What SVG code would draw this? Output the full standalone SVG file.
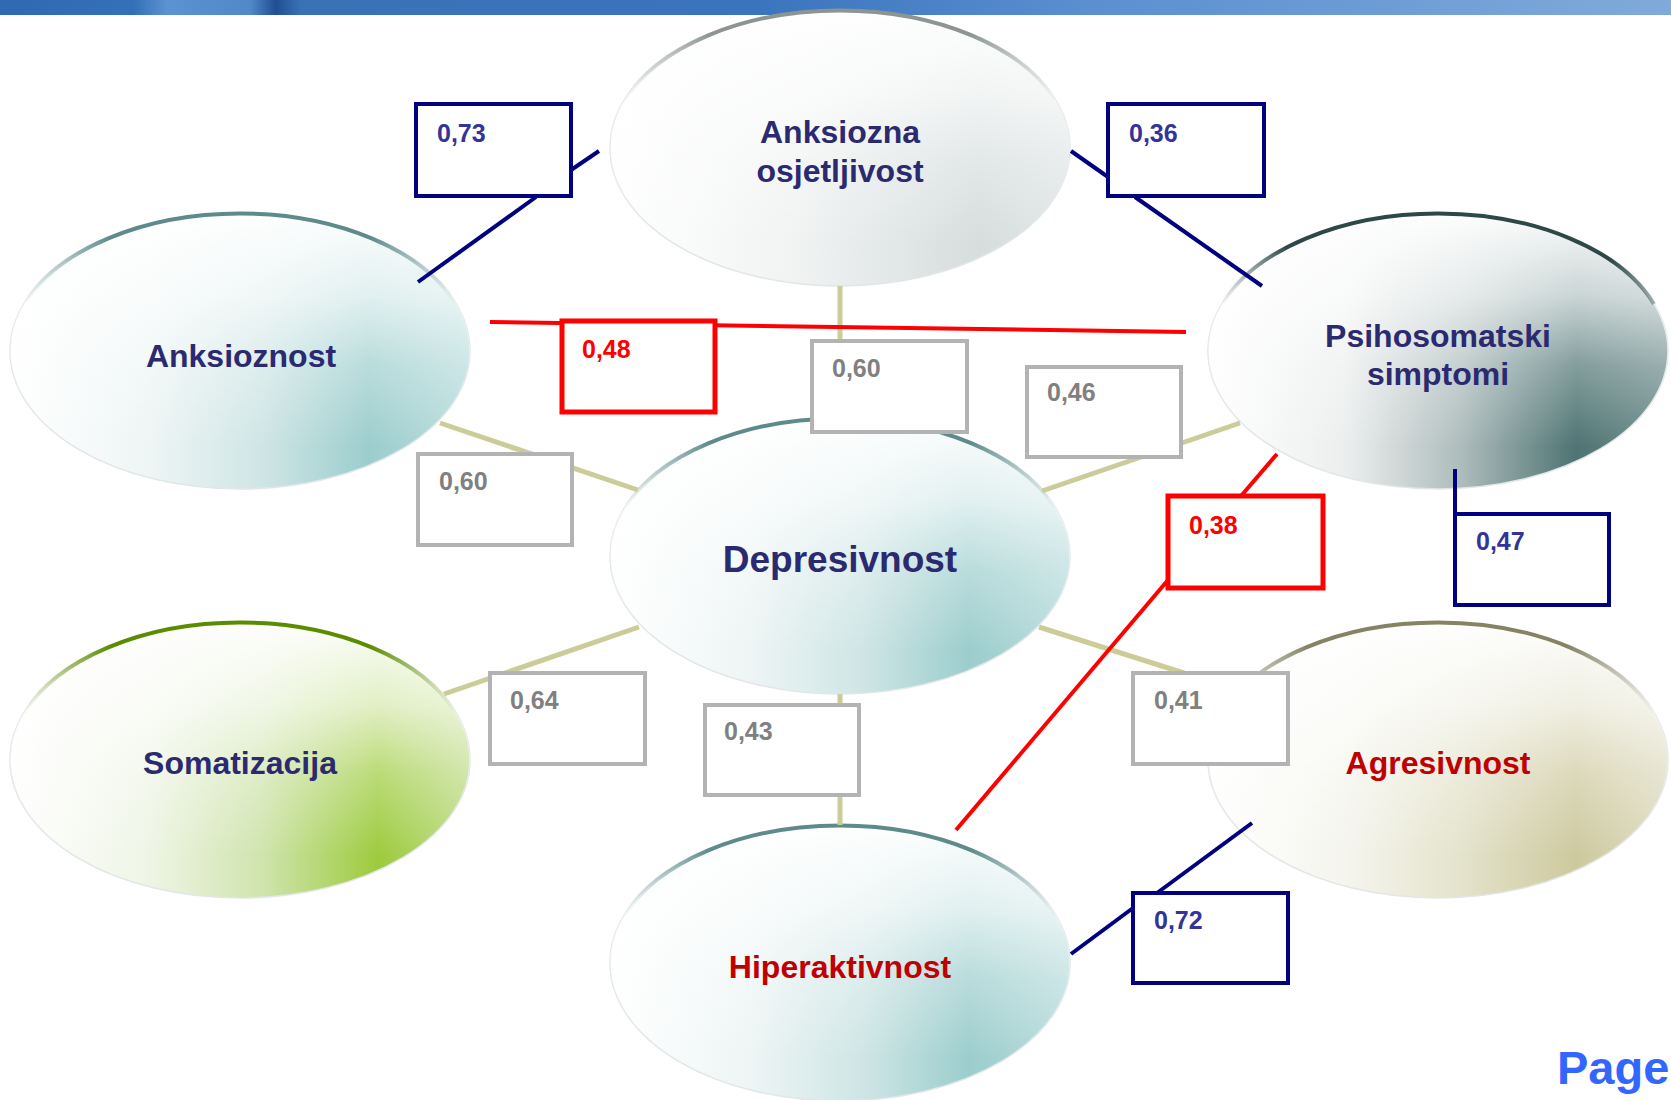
<svg xmlns="http://www.w3.org/2000/svg" width="1671" height="1100" viewBox="0 0 1671 1100">
<defs>
<linearGradient id="bar" x1="0" y1="0" x2="1" y2="0">
<stop offset="0" stop-color="#2f69b2"/><stop offset="0.08" stop-color="#3470b8"/><stop offset="0.1" stop-color="#5b92d2"/><stop offset="0.15" stop-color="#5088c8"/><stop offset="0.165" stop-color="#1f4f92"/><stop offset="0.18" stop-color="#3a72b6"/><stop offset="0.45" stop-color="#3a74be"/><stop offset="0.65" stop-color="#5a8fd0"/><stop offset="1" stop-color="#80aadb"/>
</linearGradient>
<linearGradient id="gTeal" x1="0" y1="0" x2="1" y2="0"><stop offset="0" stop-color="#ffffff"/><stop offset="0.3" stop-color="#eef5f5"/><stop offset="0.55" stop-color="#cfe5e5"/><stop offset="0.78" stop-color="#9ccdcd"/><stop offset="1" stop-color="#b9dcdc"/></linearGradient>
<linearGradient id="gGray" x1="0" y1="0" x2="1" y2="0"><stop offset="0" stop-color="#ffffff"/><stop offset="0.4" stop-color="#f1f3f3"/><stop offset="0.8" stop-color="#d6dddd"/><stop offset="1" stop-color="#e0e5e5"/></linearGradient>
<linearGradient id="gDark" x1="0" y1="0" x2="1" y2="0"><stop offset="0" stop-color="#ffffff"/><stop offset="0.3" stop-color="#eceeee"/><stop offset="0.55" stop-color="#aebcbc"/><stop offset="0.8" stop-color="#4e7473"/><stop offset="1" stop-color="#6f8d8c"/></linearGradient>
<linearGradient id="gOlive" x1="0" y1="0" x2="1" y2="0"><stop offset="0" stop-color="#ffffff"/><stop offset="0.3" stop-color="#f5f5ee"/><stop offset="0.55" stop-color="#e4e3cc"/><stop offset="0.8" stop-color="#cdc99e"/><stop offset="1" stop-color="#dedbbf"/></linearGradient>
<linearGradient id="gGreen" x1="0" y1="0" x2="1" y2="0"><stop offset="0" stop-color="#ffffff"/><stop offset="0.3" stop-color="#eff5e6"/><stop offset="0.55" stop-color="#cfe4ad"/><stop offset="0.8" stop-color="#9dcb3d"/><stop offset="1" stop-color="#bedb86"/></linearGradient>
<linearGradient id="gTop" x1="0" y1="0" x2="0" y2="1"><stop offset="0" stop-color="#ffffff" stop-opacity="0.97"/><stop offset="0.3" stop-color="#ffffff" stop-opacity="0.7"/><stop offset="0.55" stop-color="#ffffff" stop-opacity="0.3"/><stop offset="0.85" stop-color="#ffffff" stop-opacity="0"/></linearGradient>
<linearGradient id="rTeal" x1="0" y1="0" x2="1" y2="0"><stop offset="0" stop-color="#5e8a8a" stop-opacity="0"/><stop offset="0.2" stop-color="#5e8a8a"/><stop offset="0.8" stop-color="#5e8a8a"/><stop offset="1" stop-color="#5e8a8a" stop-opacity="0"/></linearGradient>
<linearGradient id="rGray" x1="0" y1="0" x2="1" y2="0"><stop offset="0" stop-color="#8c9494" stop-opacity="0"/><stop offset="0.2" stop-color="#8c9494"/><stop offset="0.8" stop-color="#8c9494"/><stop offset="1" stop-color="#8c9494" stop-opacity="0"/></linearGradient>
<linearGradient id="rDark" x1="0" y1="0" x2="1" y2="0"><stop offset="0" stop-color="#2d4847" stop-opacity="0"/><stop offset="0.15" stop-color="#2d4847"/><stop offset="0.9" stop-color="#2d4847"/><stop offset="1" stop-color="#2d4847" stop-opacity="0.4"/></linearGradient>
<linearGradient id="rOlive" x1="0" y1="0" x2="1" y2="0"><stop offset="0" stop-color="#858363" stop-opacity="0"/><stop offset="0.2" stop-color="#858363"/><stop offset="0.8" stop-color="#858363"/><stop offset="1" stop-color="#858363" stop-opacity="0"/></linearGradient>
<linearGradient id="rGreen" x1="0" y1="0" x2="1" y2="0"><stop offset="0" stop-color="#5b8c00" stop-opacity="0"/><stop offset="0.2" stop-color="#5b8c00"/><stop offset="0.8" stop-color="#5b8c00"/><stop offset="1" stop-color="#5b8c00" stop-opacity="0"/></linearGradient>
</defs>
<style>
text{font-family:"Liberation Sans",Arial,sans-serif;font-weight:bold}
.base{stroke:#e2e6e6;stroke-width:1.5}
.top{fill:url(#gTop)}
.rim{fill:none;stroke-width:4}
.nt{font-size:32px;fill:#2b2a70;text-anchor:middle}
.nr{font-size:32px;fill:#c00000;text-anchor:middle}
.k{stroke:#cccc99;stroke-width:5;fill:none}
.n{stroke:#000080;stroke-width:4;fill:none}
.r{stroke:#ff0000;stroke-width:4;fill:none}
.bn{fill:#ffffff;stroke:#000080;stroke-width:4}
.br{fill:#ffffff;stroke:#ff0000;stroke-width:5}
.bg{fill:#ffffff;stroke:#b3b3b3;stroke-width:4}
.tn{font-size:25px;fill:#333399}
.tr{font-size:25px;fill:#ff0000}
.tg{font-size:25px;fill:#808080}
</style>
<rect x="0" y="0" width="1671" height="15" fill="url(#bar)"/>

<g id="node-anksiozna-osjetljivost">
<ellipse class="base" cx="840" cy="148" rx="230" ry="138" fill="url(#gGray)"/>
<ellipse class="top" cx="840" cy="148" rx="230" ry="138"/>
<path class="rim" stroke="url(#rGray)" d="M 624 101 A 230 138 0 0 1 1056 101"/>
<text class="nt" x="840" y="143">Anksiozna</text>
<text class="nt" x="840" y="182">osjetljivost</text>
</g>
<g id="node-anksioznost">
<ellipse class="base" cx="240" cy="351" rx="230" ry="138" fill="url(#gTeal)"/>
<ellipse class="top" cx="240" cy="351" rx="230" ry="138"/>
<path class="rim" stroke="url(#rTeal)" d="M 24 304 A 230 138 0 0 1 456 304"/>
<text class="nt" x="241" y="367">Anksioznost</text>
</g>
<g id="node-psihosomatski">
<ellipse class="base" cx="1438" cy="351" rx="230" ry="138" fill="url(#gDark)"/>
<ellipse class="top" cx="1438" cy="351" rx="230" ry="138"/>
<path class="rim" stroke="url(#rDark)" d="M 1222 304 A 230 138 0 0 1 1654 304"/>
<text class="nt" x="1438" y="347">Psihosomatski</text>
<text class="nt" x="1438" y="385">simptomi</text>
</g>
<g id="node-depresivnost">
<ellipse class="base" cx="840" cy="556" rx="230" ry="138" fill="url(#gTeal)"/>
<ellipse class="top" cx="840" cy="556" rx="230" ry="138"/>
<path class="rim" stroke="url(#rTeal)" d="M 624 509 A 230 138 0 0 1 1056 509"/>
<text class="nt" x="840" y="572" style="font-size:37px">Depresivnost</text>
</g>
<g id="node-somatizacija">
<ellipse class="base" cx="240" cy="760" rx="230" ry="138" fill="url(#gGreen)"/>
<ellipse class="top" cx="240" cy="760" rx="230" ry="138"/>
<path class="rim" stroke="url(#rGreen)" d="M 24 713 A 230 138 0 0 1 456 713"/>
<text class="nt" x="240" y="774">Somatizacija</text>
</g>
<g id="node-agresivnost">
<ellipse class="base" cx="1438" cy="760" rx="230" ry="138" fill="url(#gOlive)"/>
<ellipse class="top" cx="1438" cy="760" rx="230" ry="138"/>
<path class="rim" stroke="url(#rOlive)" d="M 1222 713 A 230 138 0 0 1 1654 713"/>
<text class="nr" x="1438" y="774">Agresivnost</text>
</g>
<g id="node-hiperaktivnost">
<ellipse class="base" cx="840" cy="963" rx="230" ry="138" fill="url(#gTeal)"/>
<ellipse class="top" cx="840" cy="963" rx="230" ry="138"/>
<path class="rim" stroke="url(#rTeal)" d="M 624 916 A 230 138 0 0 1 1056 916"/>
<text class="nr" x="840" y="978">Hiperaktivnost</text>
</g>

<g id="connectors">
<line class="k" x1="840" y1="286" x2="840" y2="418"/>
<line class="k" x1="440" y1="423" x2="638" y2="490"/>
<line class="k" x1="1042" y1="491" x2="1240" y2="423"/>
<line class="k" x1="444" y1="694" x2="639" y2="627"/>
<line class="k" x1="1039" y1="627" x2="1250" y2="694"/>
<line class="k" x1="840" y1="694" x2="840" y2="825"/>
<line class="n" x1="536" y1="197" x2="418" y2="282"/>
<line class="n" x1="571" y1="170" x2="599" y2="151"/>
<line class="n" x1="1071" y1="151" x2="1108" y2="177"/>
<line class="n" x1="1135" y1="197" x2="1262" y2="286"/>
<line class="n" x1="1455" y1="469" x2="1455" y2="514"/>
<line class="n" x1="1252" y1="823" x2="1157" y2="893"/>
<line class="n" x1="1071" y1="954" x2="1133" y2="908"/>
<line class="r" x1="490" y1="322" x2="1186" y2="332"/>
<line class="r" x1="1277" y1="454" x2="1241" y2="496"/>
<line class="r" x1="1168" y1="580" x2="956" y2="830"/>
</g>

<g id="label-073"><rect class="bn" x="416" y="104" width="155" height="92"/><text class="tn" x="437" y="142">0,73</text></g>
<g id="label-036"><rect class="bn" x="1108" y="104" width="156" height="92"/><text class="tn" x="1129" y="142">0,36</text></g>
<g id="label-048"><rect class="br" x="562" y="321" width="153" height="91"/><text class="tr" x="582" y="358">0,48</text></g>
<g id="label-060a"><rect class="bg" x="812" y="341" width="155" height="91"/><text class="tg" x="832" y="377">0,60</text></g>
<g id="label-046"><rect class="bg" x="1027" y="367" width="154" height="90"/><text class="tg" x="1047" y="401">0,46</text></g>
<g id="label-060b"><rect class="bg" x="418" y="454" width="154" height="91"/><text class="tg" x="439" y="490">0,60</text></g>
<g id="label-038"><rect class="br" x="1168" y="496" width="155" height="92"/><text class="tr" x="1189" y="534">0,38</text></g>
<g id="label-047"><rect class="bn" x="1455" y="514" width="154" height="91"/><text class="tn" x="1476" y="550">0,47</text></g>
<g id="label-064"><rect class="bg" x="490" y="673" width="155" height="91"/><text class="tg" x="510" y="709">0,64</text></g>
<g id="label-043"><rect class="bg" x="705" y="705" width="154" height="90"/><text class="tg" x="724" y="740">0,43</text></g>
<g id="label-041"><rect class="bg" x="1133" y="673" width="155" height="91"/><text class="tg" x="1154" y="709">0,41</text></g>
<g id="label-072"><rect class="bn" x="1133" y="893" width="155" height="90"/><text class="tn" x="1154" y="929">0,72</text></g>

<text x="1557" y="1084" style="font-size:47px;fill:#3366ff">Page</text>
</svg>
